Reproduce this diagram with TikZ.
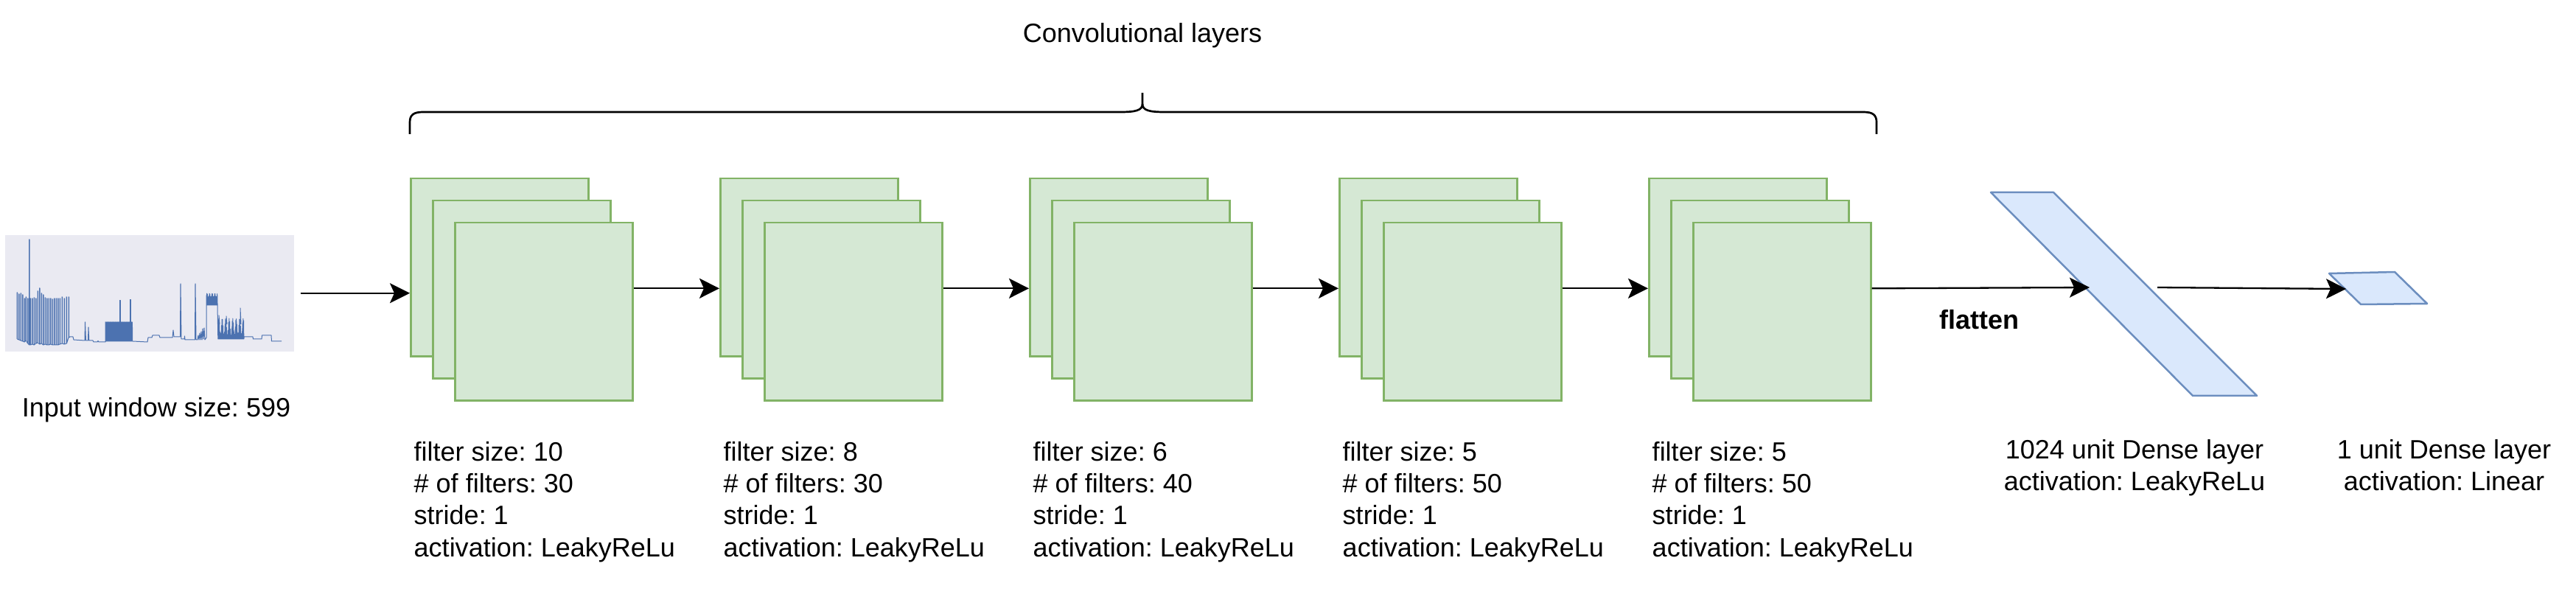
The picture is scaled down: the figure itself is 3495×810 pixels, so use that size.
\documentclass[tikz,border=0pt]{standalone}
\usepackage{fontspec}
\setmainfont{Liberation Sans}
\usetikzlibrary{arrows.meta}

\definecolor{fmapfill}{HTML}{D5E8D4}
\definecolor{fmapline}{HTML}{82B366}
\definecolor{densefill}{HTML}{DAE8FC}
\definecolor{denseline}{HTML}{6C8EBF}
\definecolor{sigline}{HTML}{4C72B0}
\definecolor{sigbg}{HTML}{EAEAF2}

\begin{document}
\frenchspacing
\begin{tikzpicture}[x=0.01cm,y=-0.01cm,
        font=\fontsize{10.24pt}{12.24pt}\selectfont,
        >={Stealth[length=0.27cm,width=0.27cm,inset=0.06cm]},
        fmap/.style={draw=fmapline,fill=fmapfill,line width=0.025cm,minimum size=2.41cm,inner sep=0pt,anchor=north west},
        flow/.style={->,draw=black,line width=0.023cm},
        signal/.style={draw=sigline,line width=0.01cm,line join=round},
        dense/.style={draw=denseline,fill=densefill,line width=0.025cm,line join=round},
        info/.style={align=left,inner sep=0pt,anchor=base west}]
    \useasboundingbox (0,0) rectangle (3495,810);

    % input window
    \node[fill=sigbg,minimum width=3.92cm,minimum height=1.58cm,inner sep=0pt,anchor=north west] (input) at (6,318) {};
    \draw[signal] (23,460)
        foreach \x/\t/\b in {23/397/460,25.5/399/461,28/398/462,30.5/400/463,33/405/464,35/403/462,
                             37.5/405/466,39.5/325/468,41/405/468,43.5/405/467,46/404/468,48.5/405/466,
                             51/395/465,53.5/391/467,56/398/466,58.5/400/468,61/404/467,63.5/405/468,
                             66/405/468,68.5/405/467,71/406/468,73.5/405/468,76/405/468,78.5/405/468,
                             81/405/467,84/403/466,87/405/467,90/403/466,93/403/458}
            { -- (\x,\b) -- (\x,\t) -- ({\x+0.5},\t) -- ({\x+0.5},\b) }
        -- (95,457) -- (99,457) -- (100,461) -- (115,462) -- (115.5,437) -- (116.5,462)
        -- (119.5,462) -- (120,444) -- (120.8,462) -- (126,462) -- (127,464) -- (132,464)
        -- (133,462.5) -- (134,464) -- (143,464)
        foreach \k in {0,...,52} { -- ({143+\k*0.7},437) -- ({143.35+\k*0.7},463) }
        -- (180,463) -- (200,464) -- (201,458) -- (206,458) -- (207,455) -- (216,455)
        -- (217,458) -- (234,458) -- (235,448) -- (236,457) -- (244.5,457) -- (245,385)
        -- (246,460) -- (250,460) -- (250.5,456) -- (251,461) -- (264.5,461) -- (265,385)
        -- (266,461) -- (268,461) -- (269,455) -- (270,461) -- (271,452) -- (272,461)
        -- (273,450) -- (274,461) -- (275,446) -- (276,460) -- (277,445) -- (278,461) -- (280,458)
        foreach \k in {0,...,21} { -- ({280+\k*0.7},{401-3*sin(\k*71)}) -- ({280.35+\k*0.7},414) }
        -- (295,415) -- (295.5,440)
        foreach \k in {0,...,50} { -- ({295.5+\k*0.7},{444-12*sin(\k*53)}) -- ({295.85+\k*0.7},460) }
        -- (331,459) -- (331,457) -- (343,457) -- (343.5,460) -- (355,460) -- (355.5,455)
        -- (368,455) -- (368.5,463) -- (382,463);
    \draw[signal] (162,437) -- (162,408) -- (163,408) -- (163,440);
    \draw[signal] (176,437) -- (176,407) -- (177,407) -- (177,440);
    \draw[signal] (297,440) -- (297,428) -- (298,440);
    \draw[signal] (307,440) -- (307,429) -- (308,440);
    \draw[signal] (326,440) -- (326,418) -- (327,440);
    \node[anchor=base] (inputlbl) at (212,566) {Input window size: 599};

    % convolutional layers
    \foreach \i in {1,...,5}{
        \pgfmathsetmacro\sx{556+420*(\i-1)}
        \node[fmap] (map\i-1) at (\sx,241) {};
        \node[fmap] (map\i-2) at (\sx+30,271) {};
        \node[fmap] (map\i-3) at (\sx+60,301) {};
    }
    \foreach \i/\fs/\nf in {1/10/30,2/8/30,3/6/40,4/5/50,5/5/50}
        \node[info] (info\i) at ({561+420*(\i-1)},755)
            {filter size: \fs\\\# of filters: \nf\\stride: 1\\activation: LeakyReLu};

    % brace
    \draw[line width=0.027cm] (556,182) -- (556,166) .. controls (556,156) and (561,152) .. (574,152)
        -- (1520,152) .. controls (1540,152) and (1550,150) .. (1550,141) -- (1550,126);
    \draw[line width=0.027cm] (1550,141) .. controls (1550,150) and (1560,152) .. (1580,152)
        -- (2528,152) .. controls (2541,152) and (2546,156) .. (2546,166) -- (2546,182);
    \node[anchor=base] (convlbl) at (1550,58) {Convolutional layers};

    % dense layers
    \coordinate (d1) at (2701,261);
    \coordinate (d2) at (2786,261);
    \coordinate (d3) at (3062,537);
    \coordinate (d4) at (2975,537);
    \draw[dense] (d1) -- (d2) -- (d3) -- (d4) -- cycle;
    \coordinate (dense-in) at (2835,390);
    \coordinate (dense-out) at (2927,390);
    \coordinate (o1) at (3160,371);
    \coordinate (o2) at (3249,369);
    \coordinate (o3) at (3293,412);
    \coordinate (o4) at (3203,413);
    \draw[dense] (o1) -- (o2) -- (o3) -- (o4) -- cycle;
    \coordinate (out-in) at (3183,392);
    \node[anchor=base,align=center] (denselbl) at (2896,666) {1024 unit Dense layer\\activation: LeakyReLu};
    \node[anchor=base,align=center] (outlbl) at (3316,666) {1 unit Dense layer\\activation: Linear};
    \node[anchor=base,font=\fontsize{10.24pt}{12.24pt}\selectfont\bfseries] (flattenlbl) at (2685,447) {flatten};

    % connectors
    \draw[flow] ([xshift=0.08cm]input.east) -- (input.east -| map1-1.west);
    \foreach \i [evaluate=\i as \j using int(\i+1)] in {1,...,4}
        \draw[flow] ([yshift=0.315cm]map\i-3.east) -- ([yshift=0.315cm]map\i-3.east -| map\j-1.west);
    \draw[flow] ([yshift=0.315cm]map5-3.east) -- (dense-in);
    \draw[flow] (dense-out) -- (out-in);
\end{tikzpicture}
\end{document}
